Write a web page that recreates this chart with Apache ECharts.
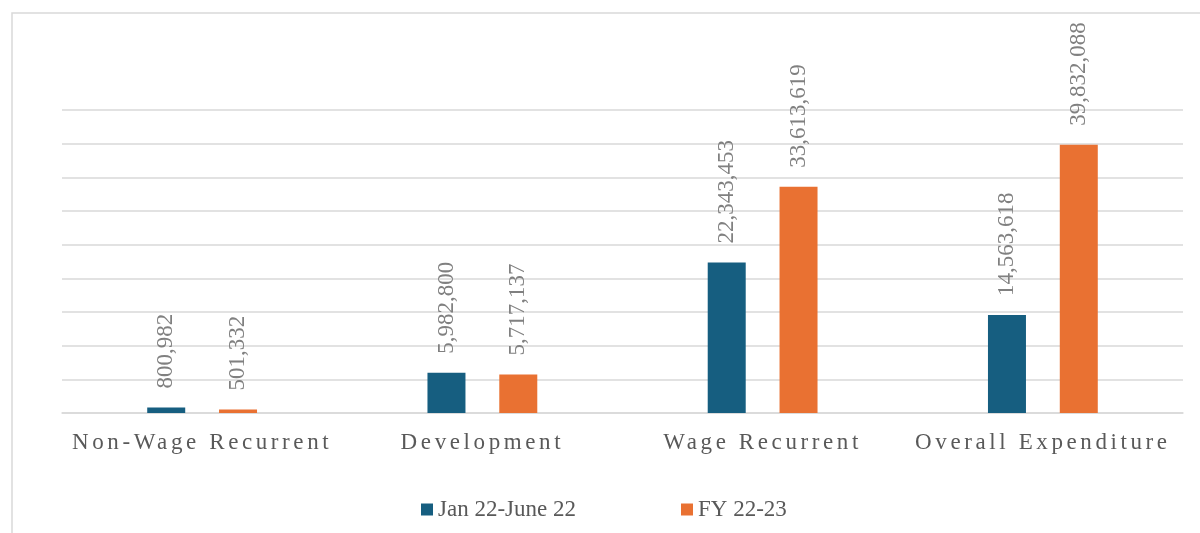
<!DOCTYPE html>
<html>
<head>
<meta charset="utf-8">
<script src="https://cdn.jsdelivr.net/npm/echarts@6/dist/echarts.min.js"></script>
<style>
  html, body { margin: 0; padding: 0; background: #fff; }
  #chart { width: 1200px; height: 533px; }
</style>
</head>
<body>
<div id="chart"></div>
<script>
const categories = ['Non-Wage Recurrent', 'Development', 'Wage Recurrent', 'Overall Expenditure']
const seriesNames = ['Jan 22-June 22', 'FY 22-23']
const janJune = [800982, 5982800, 22343453, 14563618]
const fy2223 = [501332, 5717137, 33613619, 39832088]

const serif = 'Liberation Serif'
// category labels use a different family name so they can be drawn spaced out
const spacedSerif = "'Times New Roman', 'Liberation Serif'"

const origFillText = CanvasRenderingContext2D.prototype.fillText
CanvasRenderingContext2D.prototype.fillText = function (...args) {
  this.letterSpacing = this.font.includes('Times') ? '3.6px' : '0px'
  return origFillText.apply(this, args)
}

const chart = echarts.init(document.getElementById('chart'))

const fmt = v => v.toLocaleString('en-US')

const valueLabel = {
  show: true,
  position: 'top',
  rotate: 90,
  align: 'left',
  verticalAlign: 'middle',
  distance: 19,
  color: '#808080',
  fontFamily: serif,
  fontSize: 23,
  formatter: p => fmt(p.value)
}

const option = {
  backgroundColor: '#fff',
  animation: false,
  textStyle: { fontFamily: serif },
  graphic: [
    {
      type: 'rect',
      shape: { x: 12, y: 13, width: 1200, height: 540 },
      style: { fill: 'none', stroke: '#d9d9d9', lineWidth: 1.5 },
      silent: true
    }
  ],
  legend: {
    data: seriesNames,
    left: 421,
    top: 498,
    padding: 0,
    itemWidth: 12,
    itemHeight: 12,
    itemGap: 105,
    icon: 'rect',
    textStyle: {
      color: '#595959',
      fontFamily: serif,
      fontSize: 23
    }
  },
  grid: {
    left: 62,
    right: 17,
    top: 110,
    bottom: 120,
    containLabel: false
  },
  xAxis: {
    type: 'category',
    data: categories,
    axisLine: { lineStyle: { color: '#d9d9d9', width: 1.5 } },
    axisTick: { show: false },
    axisLabel: {
      interval: 0,
      margin: 18,
      color: '#595959',
      fontFamily: spacedSerif,
      fontSize: 23
    }
  },
  yAxis: {
    type: 'value',
    min: 0,
    max: 45000000,
    interval: 5000000,
    axisLabel: { show: false },
    axisLine: { show: false },
    axisTick: { show: false },
    splitLine: { lineStyle: { color: '#d9d9d9', width: 1.5 } }
  },
  series: [
    {
      name: seriesNames[0],
      type: 'bar',
      data: janJune,
      barWidth: 38,
      barGap: '89%',
      itemStyle: { color: '#165e80' },
      label: valueLabel
    },
    {
      name: seriesNames[1],
      type: 'bar',
      data: fy2223,
      barWidth: 38,
      barGap: '89%',
      itemStyle: { color: '#e97132' },
      label: valueLabel
    }
  ]
}

chart.setOption(option)
</script>
</body>
</html>
